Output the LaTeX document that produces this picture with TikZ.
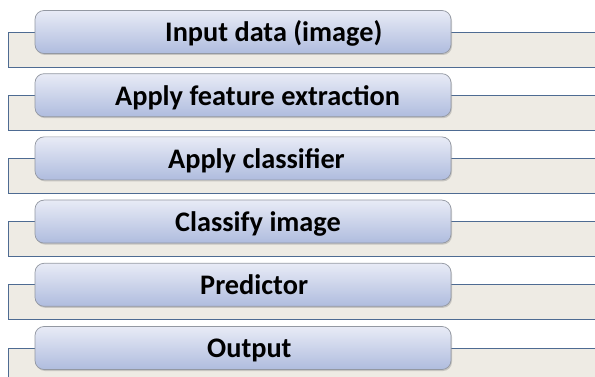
\documentclass[tikz,border=0pt]{standalone}
\usepackage{fontspec}
\setmainfont{Carlito}
\usetikzlibrary{shadows}

\definecolor{panelfill}{HTML}{EEEBE4}
\definecolor{panelline}{HTML}{4E6B92}
\definecolor{boxtop}{HTML}{E8EBF6}
\definecolor{boxbottom}{HTML}{AFBCDE}
\definecolor{boxline}{HTML}{9398A2}

\tikzset{
  panel/.style={draw=panelline, line width=0.8pt, fill=panelfill,
    rectangle, anchor=north west, minimum width=620pt, minimum height=35pt,
    inner sep=0pt, outer sep=0pt},
  stepbox/.style={draw=boxline, line width=0.7pt, rounded corners=9pt,
    top color=boxtop, bottom color=boxbottom,
    minimum width=416pt, minimum height=43pt, inner sep=0pt,
    drop shadow={opacity=0.35, shadow xshift=1pt, shadow yshift=-1.5pt}},
  steplabel/.style={anchor=base west, inner sep=0pt,
    font=\fontsize{28.3}{31}\selectfont\bfseries, text=black}
}

\begin{document}
\begin{tikzpicture}[x=1pt, y=-1pt]
  \clip (0,0) rectangle (595,377);
  \fill[white] (0,0) rectangle (595,377);

  % beige panels hanging from the middle of each step
  \foreach \i/\c in {1/32, 2/95.2, 3/158.4, 4/221.6, 5/284.8, 6/348} {
    \node[panel] (p\i) at (8,\c) {};
  }

  % rounded step boxes
  \foreach \i/\c in {1/32, 2/95.2, 3/158.4, 4/221.6, 5/284.8, 6/348} {
    \node[stepbox] (b\i) at (243,\c) {};
  }

  % step texts
  \node[steplabel] (t1) at (165,41.9) {Input data (image)};
  \node[steplabel] (t2) at (115,105.1) {Apply feature extraction};
  \node[steplabel] (t3) at (168,168.3) {Apply classifier};
  \node[steplabel] (t4) at (175,231.5) {Classify image};
  \node[steplabel] (t5) at (200,294.7) {Predictor};
  \node[steplabel] (t6) at (207,357.9) {Output};
\end{tikzpicture}
\end{document}
